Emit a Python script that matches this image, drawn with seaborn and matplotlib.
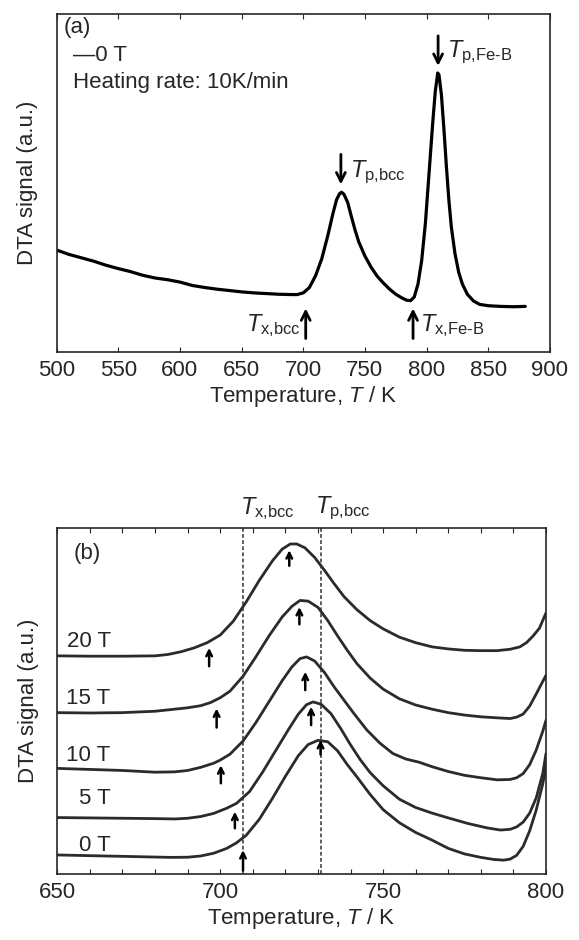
#!/usr/bin/env python3
"""
DTA curves of the amorphous alloy: (a) 0 T overview, (b) field dependence
"""
import pandas as pd
import matplotlib
matplotlib.use("Agg")
import matplotlib.pyplot as plt
from matplotlib.ticker import MultipleLocator
import seaborn as sns

# --- (a) 0 T, heating rate 10 K/min ---
temp_a = [500, 510, 520, 530, 540, 550, 560, 570, 580, 590, 600, 610, 620, 630,
          640, 650, 660, 670, 680, 690, 695, 700, 705, 710, 715, 720, 724, 727,
          729.5, 731, 733, 736, 739, 742, 745, 750, 755, 760, 765, 770, 775, 780,
          784, 787, 790, 793, 796, 799, 802, 805, 807, 809, 810, 812, 814, 816,
          818, 820, 823, 826, 829, 833, 838, 843, 850, 860, 870, 880]
dta_a = [30.1, 28.8, 27.8, 26.8, 25.6, 24.6, 23.7, 22.6, 21.8, 21.3, 20.6, 19.6,
         19.0, 18.5, 18.1, 17.7, 17.4, 17.2, 17.0, 16.9, 16.9, 17.4, 19.0, 22.5,
         27.5, 34.5, 40.8, 45.0, 46.8, 47.2, 46.6, 44.2, 40.0, 36.0, 32.5, 28.3,
         25.0, 22.3, 20.3, 18.5, 17.0, 15.9, 15.2, 15.1, 16.2, 20.0, 27.0, 38.0,
         53.0, 68.0, 77.0, 82.5, 82.0, 76.0, 66.0, 55.0, 45.0, 37.0, 29.0, 23.5,
         20.0, 17.0, 15.0, 14.0, 13.6, 13.4, 13.3, 13.4]

# --- (b) 0-20 T, zoom on the bcc peak ---
temp_0T = [650, 660, 670, 680, 685, 690, 694, 698, 702, 705, 708, 712, 716, 720,
           724, 727, 730, 733, 736, 739, 742, 746, 750, 755, 760, 765, 770, 775,
           780, 784, 787, 789, 791, 793, 795, 797, 799, 800]
dta_0T = [5.5, 5.3, 5.1, 4.9, 4.8, 4.85, 5.2, 6.0, 7.4, 9.0, 11.2, 15.8, 21.8,
          28.2, 34.2, 37.4, 38.6, 38.2, 35.6, 31.6, 28.0, 23.0, 18.6, 14.8, 12.0,
          9.8, 7.4, 5.8, 4.8, 4.2, 4.0, 4.3, 5.4, 8.0, 12.5, 18.5, 26.0, 31.0]

temp_5T = [650, 660, 670, 680, 686, 690, 694, 698, 702, 705, 709, 713, 717, 721,
           724, 726.5, 728.5, 731, 734, 737, 740, 743, 746, 750, 755, 760, 765,
           770, 776, 782, 786, 789, 791, 793, 795, 797, 799, 800]
dta_5T = [16.3, 16.2, 16.1, 16.0, 15.9, 16.1, 16.6, 17.5, 19.0, 20.4, 23.8, 29.4,
          35.6, 41.8, 46.2, 48.9, 49.7, 49.0, 46.3, 42.0, 37.3, 33.0, 29.3, 25.5,
          21.6, 19.2, 17.6, 16.2, 14.6, 13.3, 12.7, 12.9, 13.6, 15.0, 17.6, 22.0,
          29.0, 34.8]

temp_10T = [650, 660, 670, 680, 686, 690, 694, 698, 700, 703, 707, 711, 715, 719,
            722, 724.5, 726.5, 729, 732, 735, 738, 741, 745, 749, 753, 757, 761,
            765, 770, 775, 780, 785, 789, 791, 793, 795, 797, 799, 800]
dta_10T = [30.5, 30.2, 29.9, 29.4, 29.5, 29.9, 30.8, 32.0, 32.9, 34.6, 38.4, 43.8,
           49.8, 55.8, 59.8, 62.2, 62.7, 61.5, 58.2, 54.0, 50.2, 46.4, 41.6, 37.8,
           34.8, 33.2, 32.3, 31.0, 29.6, 28.5, 27.8, 27.2, 27.3, 27.8, 29.0, 31.6,
           35.8, 41.2, 44.4]

temp_15T = [650, 660, 670, 680, 685, 690, 694, 697, 700, 703, 707, 711, 715, 719,
            722, 724.5, 727, 730, 733, 736, 739, 742, 746, 750, 755, 760, 765, 770,
            775, 780, 785, 789, 791, 793, 795, 797, 799, 800]
dta_15T = [46.6, 46.5, 46.6, 47.0, 47.5, 48.0, 48.6, 49.5, 50.9, 52.8, 57.1, 62.8,
           68.8, 74.2, 77.3, 79.0, 78.8, 77.0, 73.2, 68.8, 64.6, 60.7, 56.6, 53.4,
           50.6, 48.8, 47.6, 46.6, 45.9, 45.4, 45.1, 44.9, 45.3, 46.2, 48.5, 52.0,
           55.6, 57.4]

temp_20T = [650, 660, 670, 680, 684, 688, 692, 696, 700, 704, 708, 712, 716, 719,
            721.5, 723.5, 726, 729, 732, 735, 738, 742, 746, 750, 755, 760, 765,
            770, 775, 780, 785, 789, 792, 794, 796, 798, 800]
dta_20T = [63.0, 62.9, 62.9, 63.0, 63.4, 64.2, 65.3, 66.8, 69.0, 73.0, 78.6, 84.8,
           90.4, 93.8, 95.3, 95.3, 94.2, 91.4, 87.7, 83.8, 80.1, 76.3, 73.2, 70.8,
           68.4, 66.8, 65.6, 65.0, 64.6, 64.5, 64.5, 64.9, 65.6, 66.8, 68.7, 71.0,
           75.4]

field_labels = ["0 T", "5 T", "10 T", "15 T", "20 T"]
label_y = [8.1, 21.8, 34.3, 50.7, 67.0]

# onset (Tx) and peak (Tp) arrows for each field: position, tail, head
onset_T = [707.0, 704.5, 700.2, 698.9, 696.6]
onset_tail = [1.0, 13.2, 26.2, 42.3, 60.0]
onset_head = [6.9, 18.0, 31.4, 47.8, 65.3]
peak_T = [730.8, 727.9, 726.1, 724.3, 721.2]
peak_tail = [34.5, 43.0, 53.1, 72.1, 89.0]
peak_head = [38.7, 48.3, 58.4, 77.1, 93.5]

# dashed reference lines (0 T values)
tx_bcc_0T = 707.0
tp_bcc_0T = 730.8

sns.set_style("ticks")
plt.rcParams["font.family"] = ["Liberation Sans", "DejaVu Sans"]
plt.rcParams["mathtext.fontset"] = "custom"
plt.rcParams["mathtext.rm"] = "Liberation Sans"
plt.rcParams["mathtext.it"] = "Liberation Sans:italic"
plt.rcParams["axes.linewidth"] = 1.2

FS = 16

fig = plt.figure(figsize=(5.79, 9.40), dpi=100)
ax1 = fig.add_axes([0.0976, 0.6259, 0.8523, 0.3593])
ax2 = fig.add_axes([0.0990, 0.0702, 0.8440, 0.3684])

# ---------- (a) ----------
df_a = pd.DataFrame({"T": temp_a, "DTA": dta_a})
sns.lineplot(data=df_a, x="T", y="DTA", ax=ax1, color="black", lw=2.3,
             sort=False)
ax1.set_xlim(500, 900)
ax1.set_ylim(0, 100)
ax1.xaxis.set_major_locator(MultipleLocator(50))
ax1.set_yticks([])
ax1.tick_params(axis="x", direction="in", top=True, length=3.5, width=0.8,
                labelsize=FS, pad=6)
ax1.set_xlabel(r"Temperature, $T$ / K", fontsize=FS, labelpad=2)
ax1.set_ylabel("DTA signal (a.u.)", fontsize=FS)
ax1.yaxis.set_label_coords(-0.038, 0.5)

ax1.text(506, 96.0, "(a)", fontsize=FS, va="center")
ax1.text(513, 87.8, "—0 T", fontsize=FS, va="center")
ax1.text(513, 79.8, "Heating rate: 10K/min", fontsize=FS, va="center")

arr_a = dict(arrowstyle="->", lw=2, color="black", mutation_scale=16,
             shrinkA=0, shrinkB=0)
ax1.annotate("", xy=(809.3, 84.6), xytext=(809.3, 93.5), arrowprops=arr_a)
ax1.annotate("", xy=(730.5, 49.5), xytext=(730.5, 58.4), arrowprops=arr_a)
ax1.annotate("", xy=(702, 12.8), xytext=(702, 3.9), arrowprops=arr_a)
ax1.annotate("", xy=(789, 12.8), xytext=(789, 3.9), arrowprops=arr_a)
ax1.text(816.5, 88.5, r"$T_{\mathrm{p{,}Fe‐B}}$", fontsize=FS + 1, va="center")
ax1.text(737.5, 53.0, r"$T_{\mathrm{p{,}bcc}}$", fontsize=FS + 1, va="center")
ax1.text(697.5, 7.6, r"$T_{\mathrm{x{,}bcc}}$", fontsize=FS + 1, va="center",
         ha="right")
ax1.text(794.5, 7.6, r"$T_{\mathrm{x{,}Fe‐B}}$", fontsize=FS + 1, va="center")

# ---------- (b) ----------
curves = [(temp_0T, dta_0T), (temp_5T, dta_5T), (temp_10T, dta_10T),
          (temp_15T, dta_15T), (temp_20T, dta_20T)]
for (t, d), lab in zip(curves, field_labels):
    df_b = pd.DataFrame({"T": t, "DTA": d})
    sns.lineplot(data=df_b, x="T", y="DTA", ax=ax2, color="#2b2b2b", lw=2.0,
                 sort=False)

ax2.set_xlim(650, 800)
ax2.set_ylim(0, 100)
ax2.xaxis.set_major_locator(MultipleLocator(50))
ax2.xaxis.set_minor_locator(MultipleLocator(10))
ax2.set_yticks([])
ax2.tick_params(axis="x", which="both", direction="in", top=True, length=3.5,
                width=0.8, labelsize=FS, pad=6)
ax2.set_xlabel(r"Temperature, $T$ / K", fontsize=FS, labelpad=2)
ax2.set_ylabel("DTA signal (a.u.)", fontsize=FS)
ax2.yaxis.set_label_coords(-0.038, 0.5)

ax2.axvline(tx_bcc_0T, color="#333333", lw=1.1, ls=(0, (2.5, 1.5)))
ax2.axvline(tp_bcc_0T, color="#333333", lw=1.1, ls=(0, (2.5, 1.5)))
ax2.text(706.0, 105.5, r"$T_{\mathrm{x{,}bcc}}$", fontsize=FS + 1, va="center",
         clip_on=False)
ax2.text(729.0, 105.5, r"$T_{\mathrm{p{,}bcc}}$", fontsize=FS + 1, va="center",
         clip_on=False)

ax2.text(655, 92.5, "(b)", fontsize=FS, va="center")
for lab, y in zip(field_labels, label_y):
    ax2.text(666.4, y, lab, fontsize=FS, va="center", ha="right")

arr_b = dict(arrowstyle="->", lw=1.8, color="black", mutation_scale=10,
             shrinkA=0, shrinkB=0)
for x, y0, y1 in zip(onset_T, onset_tail, onset_head):
    ax2.annotate("", xy=(x, y1), xytext=(x, y0), arrowprops=arr_b)
for x, y0, y1 in zip(peak_T, peak_tail, peak_head):
    ax2.annotate("", xy=(x, y1), xytext=(x, y0), arrowprops=arr_b)

fig.savefig("out.png", dpi=100)
